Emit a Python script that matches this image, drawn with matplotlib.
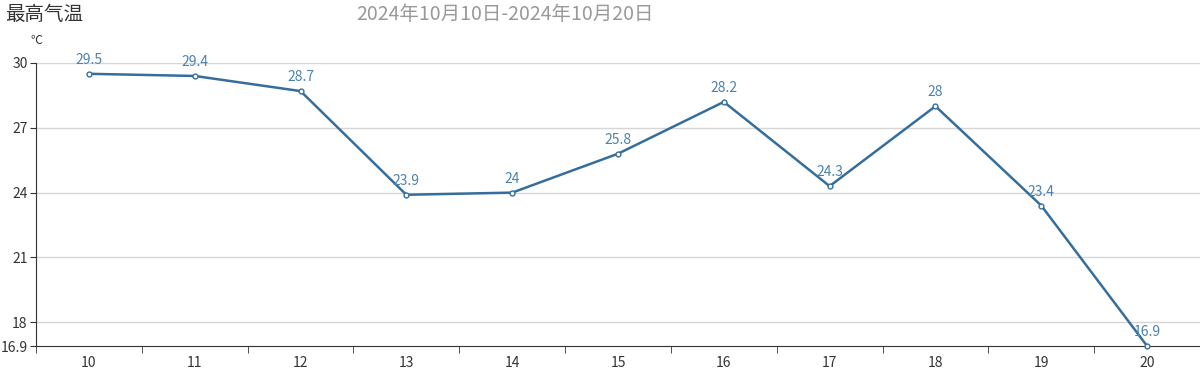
import matplotlib.pyplot as plt
import numpy as np

plt.rcParams['font.family'] = ['Noto Sans CJK SC', 'DejaVu Sans']

# data
days = ['10', '11', '12', '13', '14', '15', '16', '17', '18', '19', '20']
temps = [29.5, 29.4, 28.7, 23.9, 24, 25.8, 28.2, 24.3, 28, 23.4, 16.9]
y_ticks = [16.9, 18, 21, 24, 27, 30]
grid_vals = [18, 21, 24, 27, 30]

line_color = '#356e9c'
label_color = '#4a82b0'

fig = plt.figure(figsize=(12, 3.72), dpi=100, facecolor='white')
ax = fig.add_axes([36 / 1200, 1 - 346 / 372, 1 - 36 / 1200, (346 - 63) / 372])

x = np.arange(len(days))
ax.set_xlim(-0.5, len(days) - 0.5)
ax.set_ylim(16.9, 30)

for g in grid_vals:
    ax.axhline(g, color='#d6d6d6', linewidth=1, zorder=0)

ax.plot(x, temps, color=line_color, linewidth=1.8, marker='o', markersize=3.5,
        markerfacecolor='white', markeredgecolor=line_color, markeredgewidth=1,
        clip_on=False, zorder=3)

for xi, v in zip(x, temps):
    ax.annotate(f'{v:g}', (xi, v), xytext=(0, 5), textcoords='offset points',
                ha='center', va='bottom', fontsize=10, color=label_color)

# axes styling
for side in ['top', 'right']:
    ax.spines[side].set_visible(False)
ax.spines['left'].set_color('#333333')
ax.spines['bottom'].set_color('#333333')

ax.set_yticks(y_ticks)
ax.set_yticklabels([f'{t:g}' for t in y_ticks])
ax.set_xticks(x)
ax.set_xticklabels(days)
ax.set_xticks(np.arange(-0.5, len(days), 1), minor=True)
ax.tick_params(axis='x', which='major', length=0, pad=7, labelsize=10, labelcolor='#333333')
ax.tick_params(axis='x', which='minor', length=5, color='#333333')
ax.tick_params(axis='y', length=4, color='#333333', labelsize=10, labelcolor='#333333', pad=2)

# titles
fig.text(5 / 1200, 1 - 14 / 372, '最高气温', fontsize=14, color='#333333', va='center', ha='left')
fig.text(505 / 1200, 1 - 14 / 372, '2024年10月10日-2024年10月20日', fontsize=14,
         color='#999999', va='center', ha='center')
fig.text(36 / 1200, 1 - 41 / 372, '℃', fontsize=8.5, color='#333333', va='center', ha='center')

plt.savefig('out.png', dpi=100, facecolor='white')
plt.close()
